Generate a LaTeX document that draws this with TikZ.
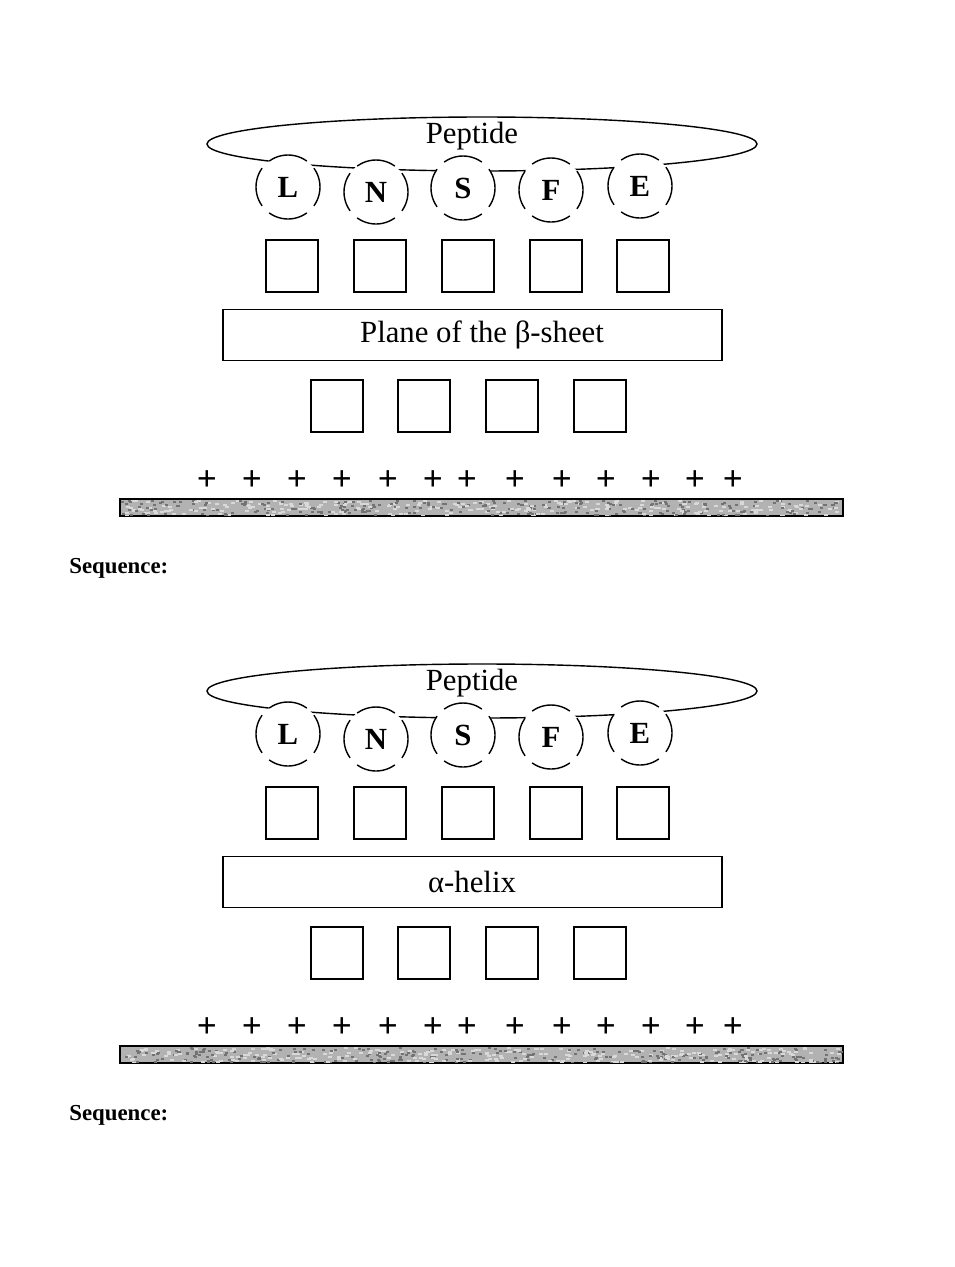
\documentclass[tikz,border=0pt]{standalone}
\usepackage{fontspec}
\setmainfont{Liberation Serif}
\usetikzlibrary{positioning}
\tikzset{
  res/.style={circle,fill=white,draw,line width=0.8pt,minimum size=12.8mm,inner sep=0pt,
              dash pattern=on 8.04mm off 2.01mm,dash phase=4.02mm,
              font=\fontsize{17.5}{17.5}\selectfont\bfseries},
  slot/.style={draw,line width=0.85pt,minimum size=10.4mm,inner sep=0pt},
  plane/.style={draw,line width=0.85pt,minimum width=99.8mm,minimum height=10.2mm,
                inner sep=0pt},
  planetext/.style={inner sep=0pt,font=\fontsize{17.5}{17.5}\selectfont},
  charge/.style={inner sep=0pt,font=\fontsize{20}{20}\selectfont\bfseries},
  surface/.style={draw,line width=0.8pt,fill=black!30,minimum width=144.6mm,
                  minimum height=3.4mm,inner sep=0pt},
  seq/.style={font=\fontsize{13}{13}\selectfont\bfseries,inner sep=0pt},
}
\begin{document}
\begin{tikzpicture}[x=0.2mm,y=-0.2mm]
  \useasboundingbox (0,0) rectangle (955,1267);
  \pgfmathsetseed{11}
  \foreach \p/\dy/\tx/\lbl in {a/0/482/Plane of the β-sheet,b/547/472/α-helix}{
  \begin{scope}[shift={(0,\dy)}]
    % peptide loop
    \draw[line width=0.8pt] (482,144) ellipse [x radius=275,y radius=27];
    \node[font=\fontsize{17.5}{17.5}\selectfont,inner sep=0pt] (pep\p) at (472,136) {Peptide};
    \foreach \r/\x/\y in {L/288/187,N/376/192,S/463/188,F/551/190,E/640/186}
      \node[res] (\r\p) at (\x,\y) {\r};

    % binding pockets above and below the plane
    \foreach \i/\x in {1/292,2/380,3/468,4/556,5/643}
      \node[slot] (up\i\p) at (\x,266) {};
    \node[plane] (plane\p) at (472.5,335) {};
    \node[planetext] (lbl\p) at (\tx,335) {\lbl};
    \foreach \i/\x in {1/337,2/424,3/512,4/600}
      \node[slot] (dn\i\p) at (\x,406) {};

    % charged surface
    \foreach \x in {207,252,297,342,388,433,467,515,562,606,651,695,733}
      \node[charge] at (\x,481) {+};
    \node[surface] (surf\p) at (481.5,507.5) {};
    \begin{scope}
      \clip (surf\p.south west) rectangle (surf\p.north east);
      \foreach \k in {1,...,260}{
        \pgfmathsetmacro\rx{121+721*rnd}
        \pgfmathsetmacro\ry{500+15*rnd}
        \fill[black!55] (\rx,\ry) rectangle ++(3,2);
        \pgfmathsetmacro\rx{121+721*rnd}
        \pgfmathsetmacro\ry{500+15*rnd}
        \fill[white!85!black] (\rx,\ry) rectangle ++(4,2);
      }
    \end{scope}
    \draw[line width=0.8pt] (surf\p.south west) rectangle (surf\p.north east);

    \node[seq,anchor=west] (seq\p) at (69,568) {Sequence:};
  \end{scope}}
\end{tikzpicture}
\end{document}
